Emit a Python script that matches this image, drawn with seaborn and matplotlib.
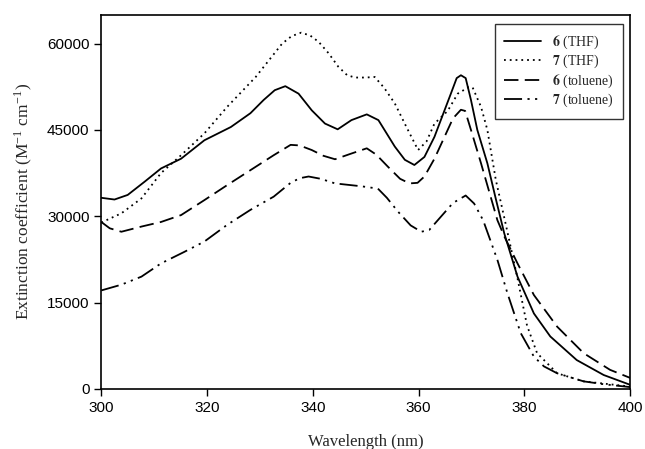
"""
UV-vis extinction spectra of compounds 6 and 7 in THF and toluene.
"""

import pandas as pd
import matplotlib
matplotlib.use("Agg")
import matplotlib.pyplot as plt
import seaborn as sns

# Series: wavelength (nm) -> extinction coefficient
WL_6_THF = [300, 302.5, 305.0, 308.2, 311.3, 315.1, 319.5, 324.5, 328.2, 330.7,
            332.8, 334.8, 337.3, 339.8, 342.3, 344.7, 347.3, 350.2, 352.4, 355.5,
            357.4, 359.2, 361.1, 363.0, 364.9, 366.1, 367.2, 368.0, 368.9, 369.9,
            371.1, 373.0, 374.6, 376.2, 378.7, 381.8, 384.9, 389.9, 395.0, 400]
EPS_6_THF = [33200, 32900, 33700, 36000, 38300, 40000, 43200, 45500, 47900, 50200,
             51900, 52600, 51300, 48400, 46100, 45100, 46700, 47700, 46700, 42100,
             39800, 38900, 40300, 43800, 48400, 51300, 54000, 54500, 54000, 50200,
             45000, 39200, 33000, 27000, 19500, 13100, 9100, 5000, 2400, 700]

WL_7_THF = [300, 303.8, 307.6, 311.3, 315.1, 319.5, 323.8, 329.2, 334.2, 336.0,
            337.8, 339.5, 341.1, 343.0, 344.8, 346.5, 348.0, 350.0, 351.7, 353.5,
            355.5, 357.7, 359.9, 361.5, 363.0, 365.5, 367.4, 369.4, 370.2, 371.8,
            373.0, 374.6, 376.5, 378.7, 380.5, 382.4, 384.9, 386.2, 391.2, 400]
EPS_7_THF = [28900, 30500, 33100, 37500, 40600, 44400, 49000, 54200, 60000, 61300,
             61900, 61400, 60300, 58300, 56000, 54500, 54100, 54100, 54200, 52300,
             49600, 45500, 41500, 43000, 46100, 48300, 51300, 52400, 52400, 49000,
             45000, 36300, 28500, 19200, 11000, 6200, 3900, 2700, 1300, 400]

WL_6_TOL = [300, 301.6, 303.8, 307.6, 311.3, 315.1, 319.5, 323.8, 328.2, 332.6,
            335.8, 337.5, 339.8, 342.0, 344.2, 347.0, 350.2, 352.0, 354.2, 356.5,
            358.3, 359.8, 361.1, 363.0, 364.9, 366.5, 368.0, 368.8, 369.9, 371.8,
            374.9, 376.2, 378.7, 381.8, 386.2, 391.2, 396.2, 400]
EPS_6_TOL = [29000, 27900, 27300, 28200, 29000, 30200, 32800, 35400, 38000, 40600,
             42400, 42300, 41500, 40500, 39900, 40800, 41800, 40700, 38600, 36500,
             35700, 35800, 36900, 40000, 43800, 47000, 48500, 48300, 45000, 39200,
             29300, 26500, 21800, 16300, 10800, 6200, 3300, 1900]

WL_7_TOL = [300, 303.8, 307.6, 311.3, 315.7, 319.5, 323.8, 328.2, 332.6, 335.8,
            337.5, 339.2, 341.5, 344.2, 349.2, 352.3, 354.0, 356.1, 358.5, 360.5,
            362.0, 364.2, 366.5, 368.9, 370.5, 372.2, 374.9, 376.8, 379.3, 381.8,
            383.7, 386.2, 391.2, 395.0, 400]
EPS_7_TOL = [17100, 18100, 19500, 21800, 23800, 25600, 28500, 31100, 33400, 35800,
             36600, 36900, 36500, 35700, 35200, 34800, 33200, 30800, 28400, 27300,
             27600, 29900, 32300, 33600, 32200, 29300, 22400, 16600, 9700, 5600,
             3900, 2700, 1300, 800, 300]

LABELS = [r"$\mathbf{6}$ (THF)", r"$\mathbf{7}$ (THF)",
          r"$\mathbf{6}$ (toluene)", r"$\mathbf{7}$ (toluene)"]

X_TICKS = [300, 320, 340, 360, 380, 400]
Y_TICKS = [0, 15000, 30000, 45000, 60000]


def build_frame() -> pd.DataFrame:
    parts = []
    for label, wl, eps in zip(LABELS,
                              [WL_6_THF, WL_7_THF, WL_6_TOL, WL_7_TOL],
                              [EPS_6_THF, EPS_7_THF, EPS_6_TOL, EPS_7_TOL]):
        parts.append(pd.DataFrame({"wavelength": wl, "eps": eps, "series": label}))
    return pd.concat(parts, ignore_index=True)


def main() -> None:
    sns.set_style("ticks")
    plt.rcParams["mathtext.fontset"] = "stix"
    plt.rcParams["font.family"] = ["Liberation Sans", "DejaVu Sans"]

    df = build_frame()
    dashes = {
        LABELS[0]: "",
        LABELS[1]: (1, 2.2),
        LABELS[2]: (8, 3.5),
        LABELS[3]: (10, 3, 1.2, 3, 1.2, 3),
    }

    fig = plt.figure(figsize=(6.45, 4.49), dpi=100)
    ax = fig.add_axes([0.157, 0.134, 0.820, 0.833])
    sns.lineplot(data=df, x="wavelength", y="eps", style="series",
                 style_order=LABELS, dashes=dashes, color="black",
                 linewidth=1.3, sort=False, estimator=None, ax=ax)

    ax.set_xlim(300, 400)
    ax.set_ylim(0, 65000)
    ax.set_xticks(X_TICKS)
    ax.set_yticks(Y_TICKS)
    ax.tick_params(direction="out", length=5, width=1, labelsize=11, colors="black")
    for side in ["left", "right", "top", "bottom"]:
        ax.spines[side].set_visible(True)
        ax.spines[side].set_linewidth(1.2)
        ax.spines[side].set_color("black")

    serif = ["Liberation Serif", "DejaVu Serif"]
    ax.set_xlabel("Wavelength (nm)", family=serif, fontsize=12, labelpad=14)
    ax.set_ylabel(r"Extinction coefficient (M$^{\mathregular{-1}}$ cm$^{\mathregular{-1}}$)",
                  family=serif, fontsize=12.5, labelpad=9)

    leg = ax.legend(loc="upper right", bbox_to_anchor=(0.987, 0.976),
                    borderaxespad=0, prop={"family": serif, "size": 10},
                    frameon=True, fancybox=False, edgecolor="black",
                    handlelength=2.6, borderpad=0.7, labelspacing=0.15)
    leg.get_frame().set_linewidth(1.0)

    fig.savefig("out.png", dpi=100)
    plt.close(fig)


if __name__ == "__main__":
    main()
